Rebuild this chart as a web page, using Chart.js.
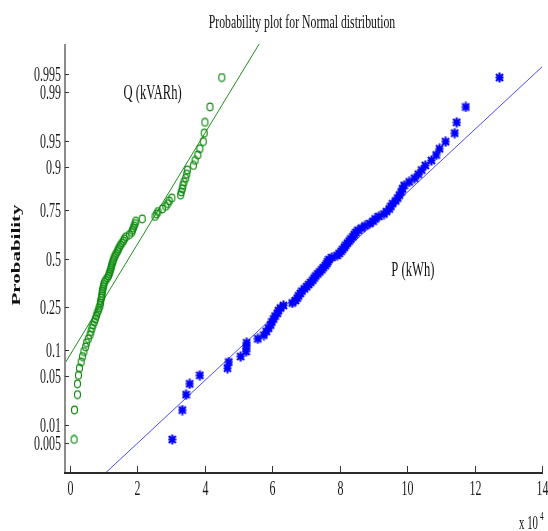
<!DOCTYPE html>
<html>
<head>
<meta charset="utf-8">
<title>Probability plot for Normal distribution</title>
<script src="https://cdn.jsdelivr.net/npm/chart.js@4.4.1/dist/chart.umd.min.js"></script>
<style>
  html, body { margin: 0; padding: 0; background: #fff; }
</style>
</head>
<body>
<canvas id="npChart" width="548" height="531"></canvas>
<script>
// ---------- data: sorted sample values (units of 10^4) ----------
const qKVARh = [
  0.12, 0.13, 0.22, 0.22, 0.25, 0.28, 0.33, 0.37, 0.41, 0.46,
  0.49, 0.54, 0.59, 0.62, 0.65, 0.68, 0.72, 0.75, 0.78, 0.80,
  0.84, 0.86, 0.89, 0.90, 0.91, 0.93, 0.94, 0.95, 0.96, 0.97,
  0.99, 1.00, 1.02, 1.06, 1.10, 1.14, 1.16, 1.18, 1.20, 1.22,
  1.23, 1.25, 1.27, 1.29, 1.31, 1.34, 1.37, 1.41, 1.43, 1.46,
  1.50, 1.54, 1.58, 1.61, 1.66, 1.76, 1.83, 1.85, 1.88, 1.90,
  1.93, 1.95, 2.14, 2.52, 2.57, 2.61, 2.74, 2.84, 2.90, 2.94,
  3.02, 3.28, 3.30, 3.33, 3.35, 3.38, 3.43, 3.46, 3.48, 3.66,
  3.71, 3.79, 3.85, 3.95, 3.98, 4.00, 4.15, 4.50
];
const pKWh = [
  3.03, 3.33, 3.44, 3.55, 3.85, 4.67, 4.71, 5.06, 5.22, 5.23,
  5.24, 5.57, 5.75, 5.82, 5.89, 5.95, 5.99, 6.04, 6.08, 6.15,
  6.18, 6.24, 6.33, 6.59, 6.69, 6.74, 6.78, 6.83, 6.88, 6.95,
  7.02, 7.08, 7.14, 7.20, 7.24, 7.29, 7.35, 7.41, 7.47, 7.51,
  7.57, 7.62, 7.65, 7.68, 7.77, 7.92, 7.98, 8.04, 8.09, 8.14,
  8.18, 8.23, 8.28, 8.33, 8.39, 8.43, 8.48, 8.54, 8.65, 8.75,
  8.89, 8.99, 9.05, 9.16, 9.31, 9.39, 9.47, 9.52, 9.57, 9.66,
  9.72, 9.77, 9.82, 9.86, 9.91, 10.06, 10.22, 10.33, 10.43, 10.54,
  10.72, 10.86, 10.96, 11.14, 11.41, 11.47, 11.74, 12.74
];

// reference lines: x value at the two ends (z = -3 and z = +3)
const fitZ = [-3, 3];
const qFitX = [-2.13, 5.61];
const pFitX = [1.05, 14.73];

// axes
const yTickProbs = [0.005, 0.01, 0.05, 0.1, 0.25, 0.5, 0.75, 0.9, 0.95, 0.99, 0.995];
const xTicks = [0, 2, 4, 6, 8, 10, 12, 14];
const xRange = [-0.15, 14];
const zRange = [-3, 3];

// series labels, placed in data coords (x, probability)
const seriesLabels = [
  { text: 'Q (kVARh)', x: 2.45, p: 0.987 },
  { text: 'P (kWh)',   x: 10.17, p: 0.402 },
];

// ---------- inverse normal cdf (Acklam) ----------
function normInv(p) {
  const a = [-3.969683028665376e+01, 2.209460984245205e+02, -2.759285104469687e+02, 1.383577518672690e+02, -3.066479806614716e+01, 2.506628277459239e+00];
  const b = [-5.447609879822406e+01, 1.615858368580409e+02, -1.556989798598866e+02, 6.680131188771972e+01, -1.328068155288572e+01];
  const c = [-7.784894002430293e-03, -3.223964580411365e-01, -2.400758277161838e+00, -2.549732539343734e+00, 4.374664141464968e+00, 2.938163982698783e+00];
  const d = [7.784695709041462e-03, 3.224671290700398e-01, 2.445134137142996e+00, 3.754408661907416e+00];
  const pl = 0.02425;
  let q, r;
  if (p < pl) {
    q = Math.sqrt(-2 * Math.log(p));
    return (((((c[0]*q+c[1])*q+c[2])*q+c[3])*q+c[4])*q+c[5]) / ((((d[0]*q+d[1])*q+d[2])*q+d[3])*q+1);
  }
  if (p > 1 - pl) {
    q = Math.sqrt(-2 * Math.log(1 - p));
    return -(((((c[0]*q+c[1])*q+c[2])*q+c[3])*q+c[4])*q+c[5]) / ((((d[0]*q+d[1])*q+d[2])*q+d[3])*q+1);
  }
  q = p - 0.5; r = q * q;
  return (((((a[0]*r+a[1])*r+a[2])*r+a[3])*r+a[4])*r+a[5])*q / (((((b[0]*r+b[1])*r+b[2])*r+b[3])*r+b[4])*r+1);
}

// plotting positions (i - 0.5) / n, like normplot
const toPoints = xs => xs.map((x, i) => ({ x, y: normInv((i + 0.5) / xs.length) }));
const toLine = xs => xs.map((x, i) => ({ x, y: fitZ[i] }));

// ---------- markers ----------
function ringMarker() {
  const c = document.createElement('canvas');
  c.width = 9; c.height = 10;
  const g = c.getContext('2d');
  g.strokeStyle = '#0a8a0a';
  g.lineWidth = 1.15;
  g.beginPath();
  g.ellipse(4.5, 5, 3.0, 3.8, 0, 0, Math.PI * 2);
  g.stroke();
  return c;
}
function starMarker() {
  const c = document.createElement('canvas');
  c.width = 9; c.height = 11;
  const g = c.getContext('2d');
  g.strokeStyle = '#0000ff';
  g.lineWidth = 2.1;
  g.beginPath();
  g.moveTo(4.5, 0.5); g.lineTo(4.5, 10.5);
  g.moveTo(1, 2);     g.lineTo(8, 9);
  g.moveTo(8, 2);     g.lineTo(1, 9);
  g.moveTo(0.5, 5.5); g.lineTo(8.5, 5.5);
  g.stroke();
  return c;
}

// ---------- condensed serif text ----------
const SERIF = '"Liberation Serif", "DejaVu Serif", serif';
function narrowText(ctx, txt, x, y, o) {
  ctx.save();
  ctx.translate(x, y);
  if (o.rot) ctx.rotate(o.rot);
  ctx.scale(o.sx || 1, o.sy || 1);
  ctx.font = (o.weight || 'normal') + ' ' + o.size + 'px ' + SERIF;
  ctx.fillStyle = o.color || '#1a1a1a';
  ctx.textAlign = o.align || 'center';
  ctx.textBaseline = o.base || 'alphabetic';
  ctx.fillText(txt, 0, 0);
  ctx.restore();
}

const axesPlugin = {
  id: 'matlabAxes',
  afterDraw(chart) {
    const { ctx, chartArea: a, scales: { x, y } } = chart;
    ctx.save();
    // axis lines
    ctx.lineWidth = 2;
    ctx.strokeStyle = '#8c8c8c';
    ctx.beginPath(); ctx.moveTo(a.left, a.top); ctx.lineTo(a.left, a.bottom + 1); ctx.stroke();
    ctx.strokeStyle = '#2b2b2b';
    ctx.beginPath(); ctx.moveTo(a.left - 1, a.bottom); ctx.lineTo(a.right + 1, a.bottom); ctx.stroke();
    // ticks
    ctx.lineWidth = 1;
    ctx.strokeStyle = '#333';
    yTickProbs.forEach(p => {
      const py = Math.round(y.getPixelForValue(normInv(p))) + 0.5;
      ctx.beginPath(); ctx.moveTo(a.left, py); ctx.lineTo(a.left + 4, py); ctx.stroke();
      narrowText(ctx, String(p), a.left - 4, py + 1, { size: 20, sx: 0.6, align: 'right', base: 'middle' });
    });
    xTicks.forEach(v => {
      const px = Math.round(x.getPixelForValue(v)) + 0.5;
      ctx.beginPath(); ctx.moveTo(px, a.bottom); ctx.lineTo(px, a.bottom - 7); ctx.stroke();
      narrowText(ctx, String(v), px, a.bottom + 17, { size: 20, sx: 0.6, base: 'middle' });
    });
    ctx.restore();

    // title, axis label, exponent
    narrowText(ctx, 'Probability plot for Normal distribution', 302, 27.5, { size: 19, sx: 0.62, color: '#111' });
    narrowText(ctx, 'Probability', 20, 255, { size: 21, rot: -Math.PI / 2, sy: 0.6, weight: 'bold', color: '#111' });
    narrowText(ctx, 'x 10', 538, 529, { size: 18, sx: 0.6, align: 'right', color: '#111' });
    narrowText(ctx, '4', 540, 520, { size: 12, sx: 0.6, align: 'left', color: '#111' });

    // series labels
    seriesLabels.forEach(l => {
      narrowText(ctx, l.text, x.getPixelForValue(l.x), y.getPixelForValue(normInv(l.p)),
        { size: 21, sx: 0.6, color: '#111' });
    });
  }
};

new Chart(document.getElementById('npChart'), {
  type: 'scatter',
  data: {
    datasets: [
      { label: 'Q (kVARh)', data: toPoints(qKVARh), pointStyle: ringMarker(), pointRadius: 4, showLine: false },
      { label: 'P (kWh)', data: toPoints(pKWh), pointStyle: starMarker(), pointRadius: 5, showLine: false },
      { label: 'Q fit', data: toLine(qFitX), showLine: true, pointRadius: 0, borderColor: '#1f8f1f', borderWidth: 1 },
      { label: 'P fit', data: toLine(pFitX), showLine: true, pointRadius: 0, borderColor: '#4a4aff', borderWidth: 1 },
    ]
  },
  options: {
    responsive: false,
    devicePixelRatio: 1,
    animation: false,
    events: [],
    layout: { padding: { left: 65, right: 5, top: 44, bottom: 58 } },
    plugins: { legend: { display: false }, tooltip: { enabled: false }, title: { display: false } },
    scales: {
      x: { type: 'linear', min: xRange[0], max: xRange[1], display: false },
      y: { type: 'linear', min: zRange[0], max: zRange[1], display: false }
    }
  },
  plugins: [axesPlugin]
});
</script>
</body>
</html>
